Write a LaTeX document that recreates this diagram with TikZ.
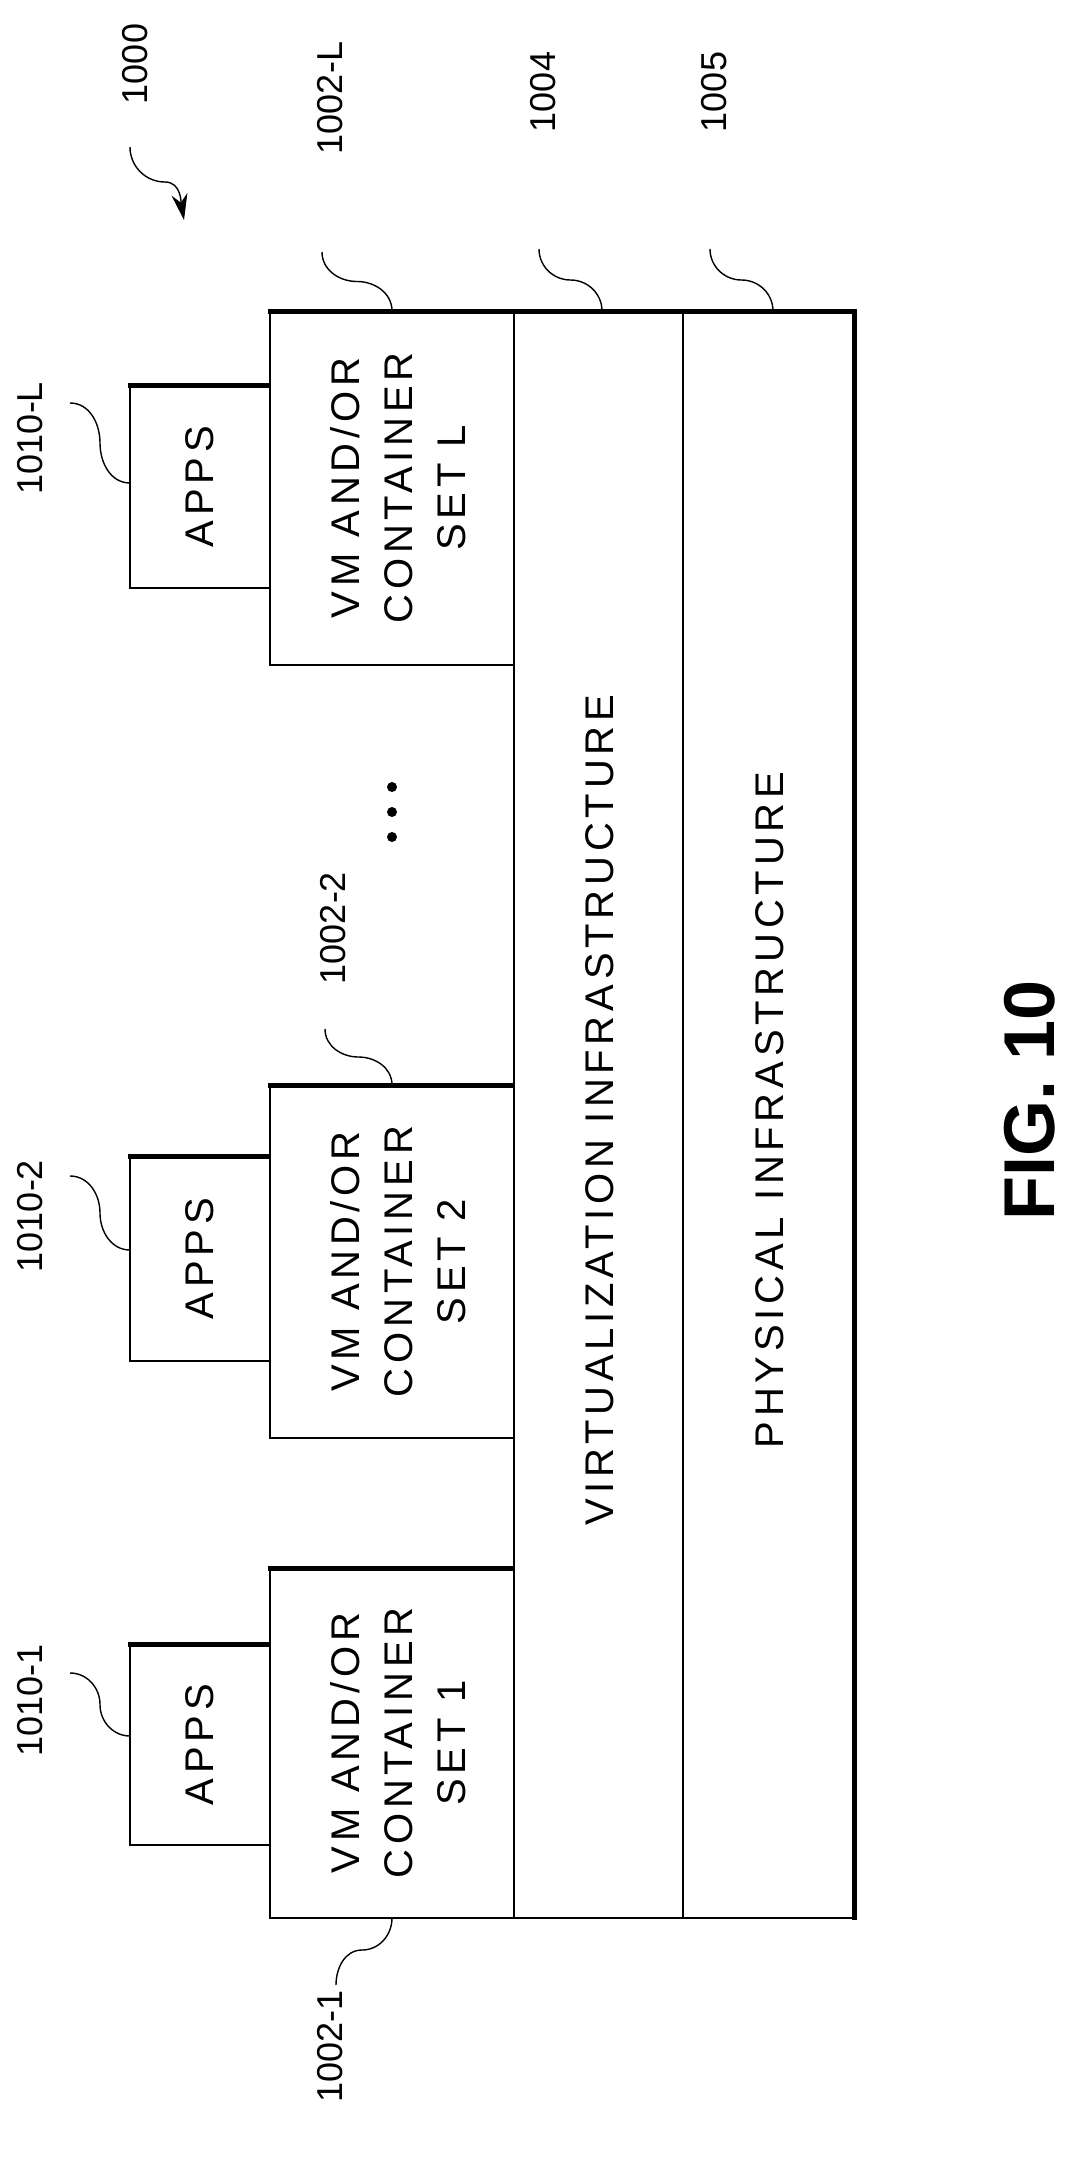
\documentclass[tikz,border=0pt]{standalone}
\usepackage{fontspec}
\setmainfont{Liberation Sans}
\newfontfamily\boxfont[LetterSpace=12]{Liberation Sans}
\usetikzlibrary{arrows.meta}
\begin{document}
\begin{tikzpicture}[x=1pt,y=-1pt,
  thin line/.style={line width=1.6pt},
  thick line/.style={line width=5pt},
  lbl/.style={rotate=90,font=\fontsize{36}{44}\selectfont},
  box text/.style={rotate=90,align=center,font=\boxfont\fontsize{40}{53}\selectfont},
  lead/.style={line width=1.4pt}]
\useasboundingbox (0,0) rectangle (1075,2184);
% infrastructure
\draw[thin line] (514,311) rectangle (854,1918);
\draw[thin line] (683,311) -- (683,1918);
\node[box text] (virt) at (600,1110) {VIRTUALIZATION INFRASTRUCTURE};
\node[box text] (phys) at (770,1110) {PHYSICAL INFRASTRUCTURE};
% VM boxes
\foreach \n/\a/\b/\s in {L/311/665/L,2/1085/1438/2,1/1568/1918/1}{
  \pgfmathsetmacro\m{(\a+\b)/2}
  \draw[thin line] (270,\a) rectangle (514,\b);
  \node[box text] (vm\n) at (398,\m) {VM AND/OR\\CONTAINER\\SET \s};
  \draw[thick line] (268,\a) -- (514,\a);
}
% apps
\foreach \n/\a/\b in {L/385/588,2/1156/1361,1/1644/1845}{
  \pgfmathsetmacro\m{(\a+\b)/2}
  \draw[thin line] (270,\b) -- (130,\b) -- (130,\a);
  \draw[thick line] (128,\a) -- (270,\a);
  \node[box text] (app\n) at (200,\m) {APPS};
}
\draw[thick line] (514,311) -- (856,311);
\draw[thick line] (854,309) -- (854,1920);
% dots
\foreach \y in {787,812,837}{\fill (392,\y) circle (5);}
% labels
\node[lbl] (l1000) at (135,64) {1000};
\coordinate (c1000) at (130,147);
\draw[lead,-{Stealth[length=26pt,width=16pt]}] (c1000) to[out=-90,in=180] (165,182) to[out=0,in=100] (184,220);
\node[lbl] (l1002L) at (330,98) {1002-L};
\node[lbl] (l1004) at (543,92) {1004};
\node[lbl] (l1005) at (714,92) {1005};
\node[lbl] (l1002b) at (333,928) {1002-2};
\node[lbl] (l1002a) at (330,2046) {1002-1};
\node[lbl] (l1010L) at (30,438) {1010-L};
\node[lbl] (l1010b) at (30,1216) {1010-2};
\node[lbl] (l1010a) at (30,1700) {1010-1};
\foreach \x/\y/\ex/\ey in {322/252/392/311,539/249/602/311,710/249/773/311,325/1029/392/1085}{
  \pgfmathsetmacro\mx{(\x+\ex)/2}
  \pgfmathsetmacro\my{(\y+\ey)/2}
  \draw[lead] (\x,\y) to[out=-90,in=180] (\mx,\my) to[out=0,in=90] (\ex,\ey);
}
\draw[lead] (336,1985) to[out=90,in=180] (362,1950) to[out=0,in=-90] (392,1918);
\foreach \y/\e in {403/483,1176/1250,1673/1736}{
  \pgfmathsetmacro\my{(\y+\e)/2}
  \draw[lead] (70,\y) to[out=0,in=90] (100,\my) to[out=-90,in=180] (130,\e);
}
\node[rotate=90,font=\fontsize{72}{72}\selectfont\bfseries] (fig) at (1030,1100) {FIG. 10};
\end{tikzpicture}
\end{document}
